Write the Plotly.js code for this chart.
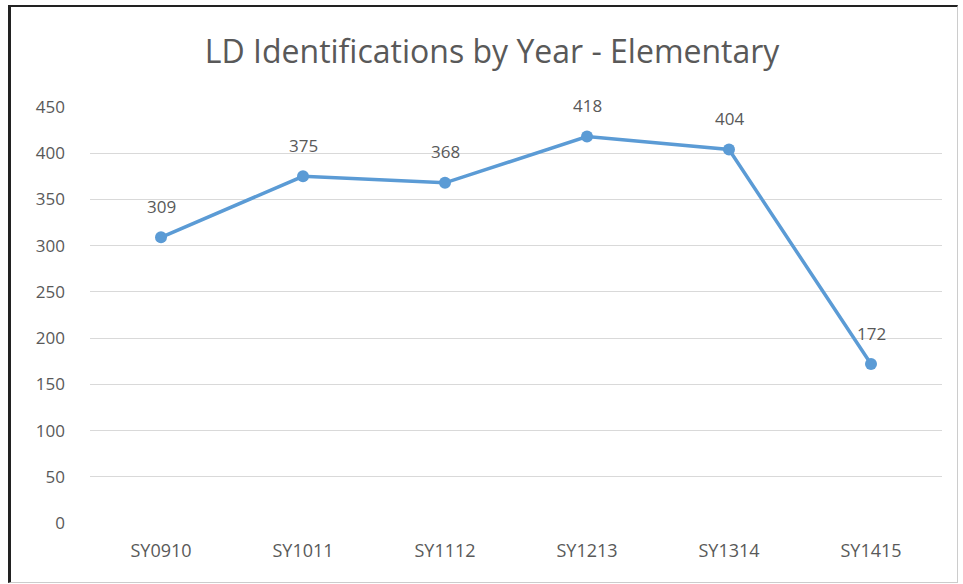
<!DOCTYPE html>
<html><head><meta charset="utf-8">
<script src="https://cdn.plot.ly/plotly-3.0.1.min.js"></script>
<style>
html,body{margin:0;padding:0;background:#fff;}
#wrap{position:relative;width:963px;height:584px;}
#chart{position:absolute;left:0;top:0;width:963px;height:584px;}
#frame{position:absolute;left:8px;top:5px;width:950px;height:578px;border-left:3px solid #222;border-top:2px solid #222;border-right:1px solid #ccc;border-bottom:1px solid #ccc;box-sizing:border-box;pointer-events:none;}
</style>
</head><body>
<div id="wrap"><div id="chart"></div><div id="frame"></div></div>
<script>
const categories = ["SY0910","SY1011","SY1112","SY1213","SY1314","SY1415"];
const values = [309, 375, 368, 418, 404, 172];
const yTicks = [0,50,100,150,200,250,300,350,400,450];
const titleText = "LD Identifications by Year - Elementary";

const fontFam = "'Open Sans', 'Noto Sans', sans-serif";
const txtColor = "#595959";

const trace = {
  x: categories, y: values, type: "scatter", mode: "lines+markers",
  line: {color: "#5B9BD5", width: 3.5},
  marker: {color: "#5B9BD5", size: 12},
  hoverinfo: "none"
};

const annotations = categories.map((c, i) => ({
  x: c, y: values[i], xref: "x", yref: "y", text: String(values[i]),
  showarrow: false, yshift: 31,
  font: {family: fontFam, size: 17, color: txtColor}
}));

const layout = {
  width: 963, height: 584,
  margin: {l: 90, r: 21, t: 107, b: 61},
  paper_bgcolor: "#fff", plot_bgcolor: "#fff",
  showlegend: false,
  title: {text: titleText, x: 0.511, xref: "container", xanchor: "center", y: 0.911, yref: "container", yanchor: "middle",
    font: {family: fontFam, size: 32, color: txtColor}},
  xaxis: {type: "category", range: [-0.5, 5.5], showgrid: false, zeroline: false, showline: false,
    ticks: "", ticklabelstandoff: 15,
    tickfont: {family: fontFam, size: 18, color: txtColor}, fixedrange: true},
  yaxis: {range: [0, 450], tickvals: yTicks, ticktext: yTicks.map(String),
    showgrid: true, gridcolor: "#d9d9d9", gridwidth: 1, zeroline: false, showline: false,
    ticks: "", ticklabelstandoff: 24,
    tickfont: {family: fontFam, size: 17, color: txtColor}, fixedrange: true},
  annotations: annotations
};

Plotly.newPlot("chart", [trace], layout, {displayModeBar: false, staticPlot: true});
</script>
</body></html>
